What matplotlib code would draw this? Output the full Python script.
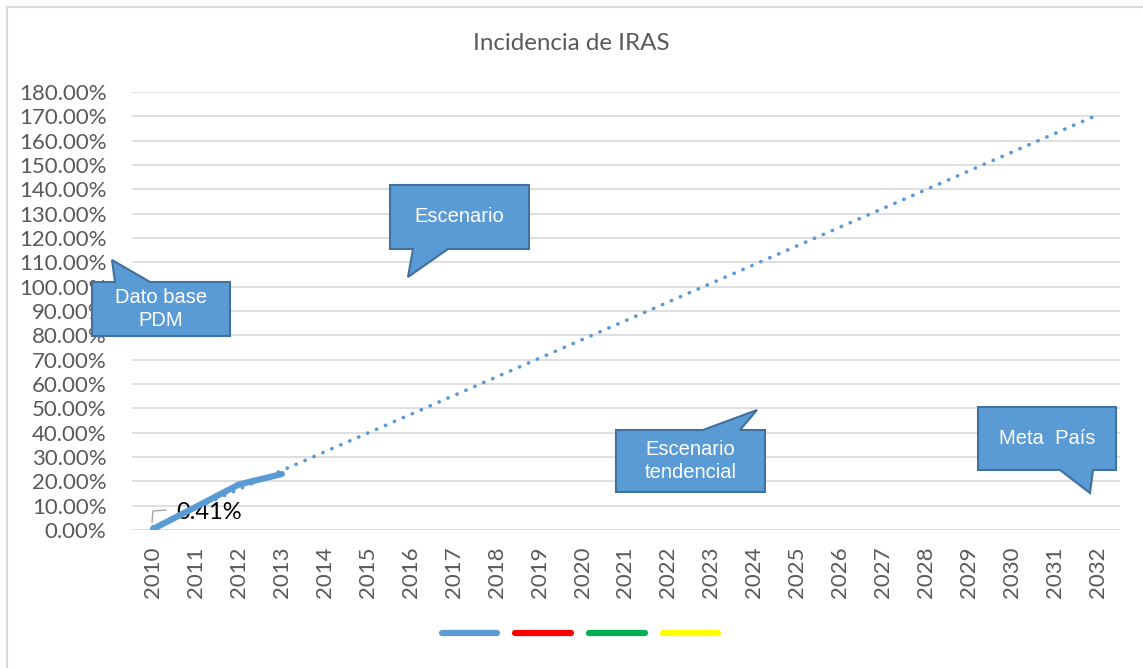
import matplotlib
matplotlib.use('Agg')
import matplotlib.pyplot as plt
import numpy as np
from matplotlib.patches import Polygon, Rectangle
from matplotlib.lines import Line2D

years = [str(y) for y in range(2010, 2033)]
observed = [0.0041, 0.095, 0.187, 0.23]   # 2010-2013
legend_colors = ['#5B9BD5', '#FF0000', '#00B050', '#FFFF00']
y_ticks = np.arange(0, 1.81, 0.10)

W, H = 1143, 668
BLUE = '#5B9BD5'
EDGE = '#41719C'
TXT = '#595959'

fig = plt.figure(figsize=(W / 100, H / 100), dpi=100)


def fx(px):
    return px / W


def fy(py):
    return 1 - py / H


ax = fig.add_axes([fx(131.5), fy(530), fx(988), 438 / H])

x_all = np.arange(len(years))
x_obs = np.arange(len(observed))

# trend line (linear fit of the observed values, like Excel)
slope, inter = np.polyfit(x_obs, observed, 1)
ax.plot(x_all, inter + slope * x_all, color=BLUE, lw=2.6, ls=(0, (0.1, 2.6)),
        dash_capstyle='round', zorder=3)
ax.plot(x_obs, observed, color=BLUE, lw=4.5, solid_capstyle='round',
        solid_joinstyle='round', zorder=4)

ax.set_xlim(-0.5, len(years) - 0.5)
ax.set_ylim(0, 1.8)
ax.set_yticks(y_ticks)
ax.set_yticklabels([f'{v * 100:.2f}%' for v in y_ticks])
ax.set_xticks(x_all)
ax.set_xticklabels(years, rotation=90)
ax.tick_params(length=0, colors=TXT, labelsize=16)
for lbl in ax.get_xticklabels() + ax.get_yticklabels():
    lbl.set_family(['Lato', 'DejaVu Sans'])
ax.tick_params(axis='x', pad=12)
ax.tick_params(axis='y', pad=18)
ax.grid(axis='y', color='#D9D9D9', lw=1.2)
for s in ax.spines.values():
    s.set_visible(False)

# data label
ax.annotate('0.41%', xy=(x_obs[0], observed[0]), xytext=(23, 17),
            textcoords='offset pixels', fontsize=17, color='black',
            family=['Lato', 'DejaVu Sans'], va='center', ha='left')
fig.add_artist(Line2D([fx(152), fx(153), fx(166)], [fy(522), fy(511), fy(510)],
                      color='#A6A6A6', lw=1))

fig.suptitle('Incidencia de IRAS', y=fy(44), va='center', fontsize=17.4,
             color=TXT, family=['Lato', 'DejaVu Sans'])

# callouts


def callout(box, wedge, text):
    x0, y0, x1, y1 = box
    (a, b, side), tip = wedge
    if side == 'bottom':
        pts = [(x0, y0), (x1, y0), (x1, y1), (b, y1), tip, (a, y1), (x0, y1)]
    else:
        pts = [(x0, y0), (a, y0), tip, (b, y0), (x1, y0), (x1, y1), (x0, y1)]
    poly = Polygon([(fx(px), fy(py)) for px, py in pts], closed=True,
                   transform=fig.transFigure, facecolor=BLUE, edgecolor=EDGE,
                   lw=1.5, zorder=10)
    fig.add_artist(poly)
    fig.text(fx((x0 + x1) / 2), fy((y0 + y1) / 2), text, ha='center',
             va='center', color='white', fontsize=14.5, linespacing=1.25,
             family=['Liberation Sans Narrow', 'Liberation Sans', 'DejaVu Sans'],
             zorder=11)


callout((390, 185, 529, 249), ((413, 448, 'bottom'), (408, 277)), 'Escenario')
callout((92, 282, 230, 336), ((115, 150, 'top'), (112, 260)), 'Dato base\nPDM')
callout((616, 430, 765, 492), ((703, 740, 'top'), (757, 410)),
        'Escenario\ntendencial')
callout((978, 407, 1116, 470), ((1060, 1093, 'bottom'), (1090, 493)),
        'Meta  País')

# legend (series without labels)
handles = [Line2D([], [], color=c, lw=4.5, solid_capstyle='round')
           for c in legend_colors]
fig.legend(handles, [''] * 4, loc='center', bbox_to_anchor=(fx(580), fy(634)),
           ncol=4, frameon=False, handlelength=4.0, handletextpad=0,
           columnspacing=1.3, fontsize=10)

# chart border
fig.add_artist(Rectangle((fx(7), fy(700)), 2, fy(7) - fy(700),
                         transform=fig.transFigure, fill=False,
                         edgecolor='#D9D9D9', lw=1.5))

fig.savefig('out.png', dpi=100)
